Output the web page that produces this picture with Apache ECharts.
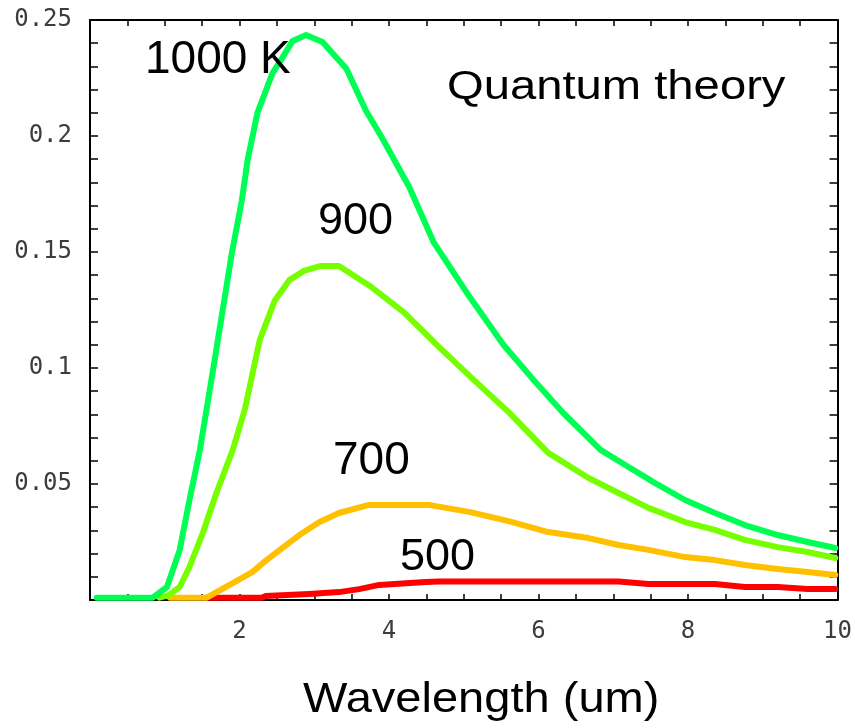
<!DOCTYPE html>
<html>
<head>
<meta charset="utf-8">
<script src="https://cdn.jsdelivr.net/npm/echarts@6/dist/echarts.min.js"></script>
<style>
html,body{margin:0;padding:0;background:#fff;}
#chart{width:855px;height:728px;}
</style>
</head>
<body>
<div id="chart"></div>
<script>
// ---- data ----
const x1000 = [0.09,0.84,1.03,1.2,1.33,1.47,1.65,1.9,2.03,2.11,2.24,2.44,2.57,2.71,2.89,3.11,3.43,3.69,3.91,4.27,4.6,5.07,5.53,5.93,6.33,6.83,7.16,7.56,7.96,8.36,8.76,9.2,9.6,9.97];
const y1000 = [0.001,0.001,0.0056,0.0216,0.043,0.0647,0.1,0.15,0.172,0.19,0.21,0.227,0.2336,0.241,0.2435,0.2405,0.229,0.211,0.199,0.178,0.154,0.131,0.11,0.095,0.0806,0.0647,0.0582,0.0504,0.0431,0.0375,0.0323,0.028,0.025,0.0224];

const x900 = [0.93,1.05,1.2,1.33,1.51,1.69,1.91,2.07,2.27,2.47,2.67,2.87,3.09,3.33,3.76,4.2,4.67,5.13,5.6,6.13,6.67,7.07,7.47,7.96,8.36,8.76,9.2,9.6,9.97];
const y900 = [0.001,0.002,0.0056,0.0142,0.029,0.046,0.0647,0.082,0.112,0.129,0.138,0.142,0.144,0.144,0.135,0.124,0.109,0.095,0.081,0.0634,0.0526,0.0461,0.0397,0.0336,0.0302,0.0259,0.0228,0.0207,0.0181];

const x700 = [1.07,1.56,1.91,2.17,2.36,2.8,3.07,3.33,3.73,4.0,4.53,5.07,5.6,6.13,6.67,7.07,7.47,7.96,8.36,8.76,9.2,9.6,9.97];
const y700 = [0.001,0.001,0.0073,0.012,0.0172,0.028,0.0336,0.0375,0.041,0.041,0.041,0.038,0.034,0.0293,0.0267,0.0237,0.0216,0.0185,0.0172,0.0151,0.0134,0.0121,0.0108];

const x500 = [1.56,2.3,2.35,2.93,3.33,3.6,3.87,4.49,4.67,7.07,7.47,8.36,8.76,9.2,9.6,9.97];
const y500 = [0.001,0.001,0.0017,0.0026,0.0034,0.0047,0.0065,0.0078,0.008,0.008,0.0069,0.0069,0.0056,0.0056,0.0047,0.0047];

const seriesNames = ['500','700','900','1000 K'];
const xTickLabels = ['2','4','6','8','10'];
const yTickLabels = ['0.05','0.1','0.15','0.2','0.25'];
const xAxisTitle = 'Wavelength (um)';
const plotTitle = 'Quantum theory';

// ---- build ----
function pairs(xs, ys){ return xs.map((x,i)=>[x, ys[i]]); }
const colors = ['#ff0000','#ffc000','#77ff00','#00ff55'];
const dataSets = [pairs(x500,y500), pairs(x700,y700), pairs(x900,y900), pairs(x1000,y1000)];

const axisLineStyle = {color:'#000', width:2};
const monoFont = {fontFamily:'DejaVu Sans Mono', fontSize:24, color:'#3c3c3c'};

const chart = echarts.init(document.getElementById('chart'), null, {renderer:'canvas'});
chart.setOption({
  backgroundColor:'#ffffff',
  animation:false,
  grid:{left:90, right:15, top:20, bottom:128, containLabel:false},
  xAxis:[
    {type:'value', position:'bottom', min:0, max:10, interval:0.5,
     axisLine:{show:true, onZero:false, lineStyle:axisLineStyle},
     axisTick:{show:true, inside:true, length:6, lineStyle:{color:'#000', width:1.5}},
     splitLine:{show:false},
     axisLabel:Object.assign({margin:20, formatter:function(v){
        const s = String(Math.round(v*10)/10);
        return xTickLabels.indexOf(s) >= 0 ? s : '';
     }}, monoFont)},
    {type:'value', position:'top', min:0, max:10, interval:0.5,
     axisLine:{show:true, onZero:false, lineStyle:axisLineStyle},
     axisTick:{show:true, inside:true, length:6, lineStyle:{color:'#000', width:1.5}},
     splitLine:{show:false}, axisLabel:{show:false}}
  ],
  yAxis:[
    {type:'value', position:'left', min:0, max:0.25, interval:0.01,
     axisLine:{show:true, onZero:false, lineStyle:axisLineStyle},
     axisTick:{show:true, inside:true, length:8, lineStyle:{color:'#000', width:1.5}},
     splitLine:{show:false},
     axisLabel:Object.assign({margin:18, formatter:function(v){
        const s = String(+(Math.round(v*100)/100).toFixed(2));
        return yTickLabels.indexOf(s) >= 0 ? s : '';
     }}, monoFont)},
    {type:'value', position:'right', min:0, max:0.25, interval:0.01,
     axisLine:{show:true, onZero:false, lineStyle:axisLineStyle},
     axisTick:{show:true, inside:true, length:8, lineStyle:{color:'#000', width:1.5}},
     splitLine:{show:false}, axisLabel:{show:false}}
  ],
  series: dataSets.map((d,i)=>({
    name: seriesNames[i], type:'line', xAxisIndex:0, yAxisIndex:0,
    data:d, showSymbol:false, smooth:false, clip:false,
    lineStyle:{color:colors[i], width:6, cap:'round', join:'round'},
    itemStyle:{color:colors[i]}, z:2+i
  })),
  graphic:[
    {type:'text', x:145, y:60, z:10, style:{text:'1000 K', font:'46px "Liberation Sans"', fill:'#000', textAlign:'left', textVerticalAlign:'middle'}},
    {type:'text', x:318, y:222, z:10, style:{text:'900', font:'45px "Liberation Sans"', fill:'#000', textAlign:'left', textVerticalAlign:'middle'}},
    {type:'text', x:333, y:461, z:10, style:{text:'700', font:'46px "Liberation Sans"', fill:'#000', textAlign:'left', textVerticalAlign:'middle'}},
    {type:'text', x:400, y:558, z:10, style:{text:'500', font:'45px "Liberation Sans"', fill:'#000', textAlign:'left', textVerticalAlign:'middle'}},
    {type:'text', x:447, y:88, z:10, scaleX:1.18, style:{text:plotTitle, font:'40px "Liberation Sans"', fill:'#000', textAlign:'left', textVerticalAlign:'middle'}},
    {type:'text', x:303, y:700, z:10, scaleX:1.12, style:{text:xAxisTitle, font:'42px "Liberation Sans"', fill:'#000', textAlign:'left', textVerticalAlign:'middle'}}
  ]
});
</script>
</body>
</html>
